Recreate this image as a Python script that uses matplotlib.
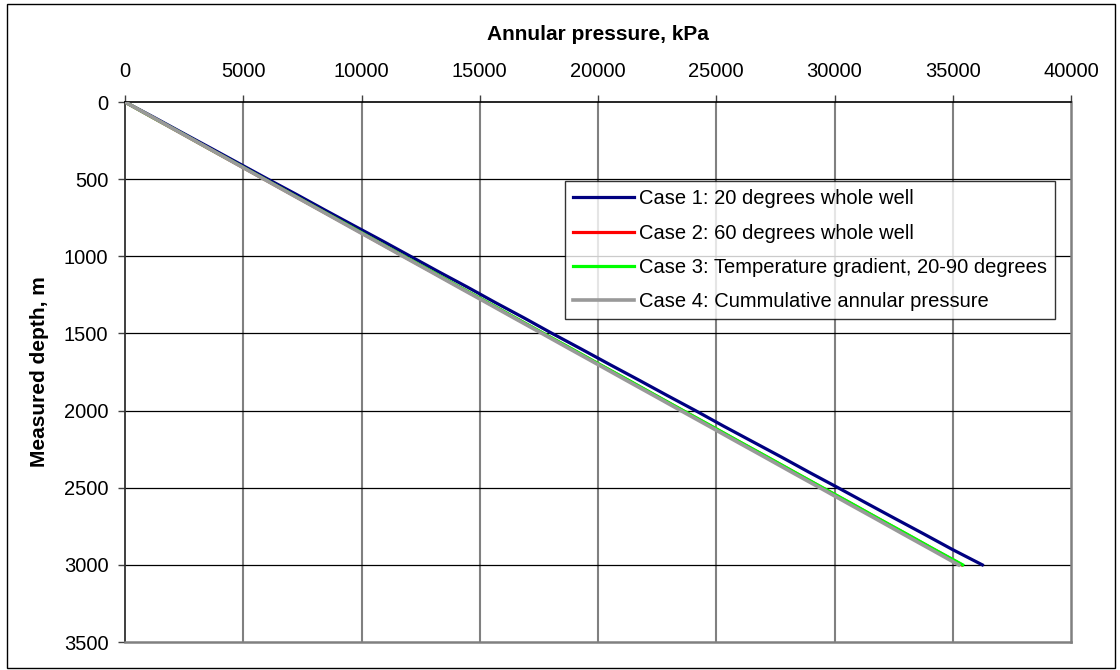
import matplotlib
matplotlib.use("Agg")
import matplotlib.pyplot as plt
from matplotlib.patches import Rectangle

plt.rcParams['font.family'] = ['Liberation Sans', 'DejaVu Sans']

depth = [0, 100, 200, 300, 400, 500, 600, 700, 800, 900, 1000, 1100, 1200, 1300, 1400,
         1500, 1600, 1700, 1800, 1900, 2000, 2100, 2200, 2300, 2400, 2500, 2600, 2700,
         2800, 2900, 3000]

case1 = [0, 1230, 2430, 3640, 4840, 6040, 7260, 8450, 9660, 10880, 12070, 13260, 14480,
         15660, 16880, 18060, 19280, 20480, 21700, 22900, 24120, 25300, 26520, 27740,
         28930, 30150, 31350, 32560, 33780, 34980, 36250]
case2 = [0, 1165, 2350, 3520, 4705, 5885, 7065, 8245, 9430, 10600, 11780, 12965, 14140,
         15325, 16500, 17680, 18865, 20040, 21225, 22400, 23580, 24765, 25940, 27125,
         28300, 29480, 30665, 31840, 33025, 34200, 35380]
case3 = [0, 1170, 2360, 3530, 4720, 5900, 7080, 8260, 9450, 10620, 11800, 12990, 14160,
         15350, 16520, 17700, 18890, 20060, 21250, 22420, 23600, 24790, 25960, 27150,
         28320, 29500, 30690, 31860, 33050, 34220, 35420]
case4 = [0, 1180, 2350, 3530, 4700, 5880, 7050, 8230, 9400, 10580, 11750, 12930, 14100,
         15280, 16450, 17630, 18800, 19980, 21150, 22330, 23500, 24680, 25850, 27030,
         28200, 29380, 30550, 31730, 32900, 34080, 35250]

labels = ["Case 1: 20 degrees whole well",
          "Case 2: 60 degrees whole well",
          "Case 3: Temperature gradient, 20-90 degrees",
          "Case 4: Cummulative annular pressure"]
colors = ["#000080", "#FF0000", "#00FF00", "#999999"]

x_ticks = [0, 5000, 10000, 15000, 20000, 25000, 30000, 35000, 40000]
y_ticks = [0, 500, 1000, 1500, 2000, 2500, 3000, 3500]

fig = plt.figure(figsize=(11.2, 6.7), dpi=100)
ax = fig.add_axes([125/1120, 1 - 642/670, (1071-125)/1120, (642-102)/670])

series = [case1, case2, case3, case4]
widths = [2.3, 2.3, 2.3, 2.6]
for s, c, lab, w in zip(series, colors, labels, widths):
    ax.plot(s, depth, color=c, lw=w, label=lab, zorder=3)

ax.set_xlim(0, 40000)
ax.set_ylim(3500, 0)
ax.set_xticks(x_ticks)
ax.set_yticks(y_ticks)
ax.xaxis.tick_top()
ax.xaxis.set_label_position('top')
ax.tick_params(axis='both', direction='out', length=5, width=1, labelsize=14.5,
               color='#404040')
ax.tick_params(axis='x', pad=10)
ax.tick_params(axis='y', pad=7)

for x in x_ticks[1:-1]:
    ax.axvline(x, color='#808080', lw=1.5, zorder=1)
for y in y_ticks[1:-1]:
    ax.axhline(y, color='black', lw=0.9, zorder=1)

ax.spines['left'].set_color('#303030')
ax.spines['top'].set_color('black')
ax.spines['left'].set_linewidth(1.3)
ax.spines['top'].set_linewidth(1.2)
ax.spines['right'].set_color('#808080')
ax.spines['bottom'].set_color('#808080')
ax.spines['right'].set_linewidth(1.8)
ax.spines['bottom'].set_linewidth(1.8)

ax.set_xlabel("Annular pressure, kPa", fontsize=15, fontweight='bold')
ax.xaxis.set_label_coords(0.5, (642 - 40.5) / 540)
ax.set_ylabel("Measured depth, m", fontsize=15, fontweight='bold')
ax.yaxis.set_label_coords((40 - 125) / 946, 0.5)
ax.yaxis.label.set_va('center')

leg = ax.legend(loc='upper left', bbox_to_anchor=((565-125)/946, 1 - (181-102)/540),
                fontsize=14.5, frameon=True, fancybox=False, edgecolor='black',
                borderaxespad=0, handlelength=3.0, handletextpad=0.25, labelspacing=0.75,
                borderpad=0.42)
leg.get_frame().set_linewidth(1.0)
leg.set_zorder(5)

fig.patches.append(Rectangle((7/1120, 2/670), 1108/1120, 664/670, transform=fig.transFigure,
                             fill=False, edgecolor='black', lw=1.0))

fig.savefig("out.png", dpi=100)
